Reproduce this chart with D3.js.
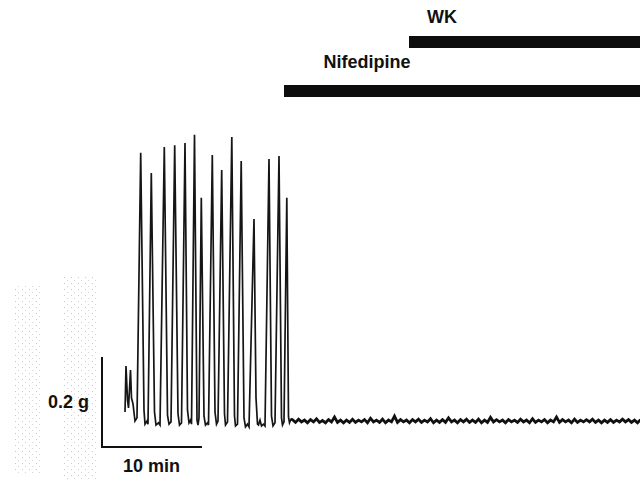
<!DOCTYPE html>
<html>
<head>
<meta charset="utf-8">
<script src="https://cdn.jsdelivr.net/npm/d3@7"></script>
<style>
  html, body { margin: 0; padding: 0; background: #fff; }
  svg { display: block; }
  text { font-family: "Liberation Sans", Arial, sans-serif; font-weight: bold; fill: #111; }
</style>
</head>
<body>
<svg id="chart" width="640" height="479"></svg>
<script>
// ---- Data (time in minutes, force in grams) ----
// Spontaneous contractions before drug application (key points)
const traceTime = [2.30,2.40,2.55,2.65,2.85,2.95,3.10,3.30,3.50,3.87,
  4.20,4.30,4.50,4.60,4.93,5.25,5.40,5.65,5.80,6.23,
  6.55,6.70,6.90,7.27,7.60,7.75,7.95,8.30,8.55,8.70,
  8.85,8.95,9.25,9.50,9.60,9.70,9.93,10.20,10.35,10.55,
  10.65,11.03,11.30,11.45,11.60,11.97,12.25,12.35,12.55,12.98,
  13.25,13.35,13.55,13.92,14.20,14.35,14.55,14.70,15.20,15.40,
  15.55,15.65,15.80,15.95,16.15,16.30,16.70,16.95,17.10,17.30,
  17.70,17.95,18.05,18.20,18.48,18.65,18.75,18.90];
const traceForce = [0.020,0.122,0.047,0.029,0.113,0.051,0.038,0.000,0.007,0.596,
  0.024,-0.007,0.000,-0.007,0.551,0.020,-0.009,-0.004,-0.009,0.609,
  0.013,-0.007,-0.002,0.613,0.016,-0.009,-0.004,0.618,0.024,-0.004,
  0.002,-0.007,0.636,0.002,-0.009,0.007,0.496,0.011,-0.009,-0.004,
  -0.009,0.591,0.020,-0.007,0.000,0.558,0.016,-0.009,-0.002,0.631,
  0.011,-0.011,-0.007,0.578,0.007,-0.013,-0.007,-0.013,0.449,0.051,
  -0.007,-0.009,0.002,-0.011,-0.007,-0.011,0.582,0.011,-0.011,-0.004,
  0.589,0.007,-0.009,-0.002,0.496,0.009,-0.004,0.004];

// Baseline after Nifedipine (sampled every 0.3 min from 19.05 min)
const baselineStart = 19.05, baselineStep = 0.3;
const baselineForce = [0.003,-0.003,0.004,-0.002,0.002,-0.004,0.003,-0.002,0.005,-0.003,
  0.001,-0.004,0.003,-0.002,0.009,-0.003,0.002,-0.004,0.002,-0.003,
  0.004,-0.003,0.002,-0.002,0.003,-0.004,0.006,-0.002,0.002,-0.003,
  0.004,-0.004,0.002,-0.002,0.011,-0.003,0.003,-0.002,0.002,-0.004,
  0.003,-0.002,0.004,-0.003,0.002,-0.002,0.005,-0.004,0.002,-0.003,
  0.003,-0.003,0.007,-0.002,0.002,-0.004,0.003,-0.002,0.004,-0.003,
  0.002,-0.003,0.004,-0.004,0.002,-0.003,0.008,-0.002,0.003,-0.002,
  0.002,-0.004,0.003,-0.002,0.002,-0.003,0.004,-0.002,0.002,-0.004,
  0.005,-0.003,0.002,-0.002,0.003,-0.004,0.002,-0.002,0.009,-0.003,
  0.003,-0.002,0.002,-0.004,0.004,-0.003,0.002,-0.002,0.003,-0.002,
  0.004,-0.003,0.002,-0.004,0.002,-0.003,0.003,-0.003,0.002,-0.002,
  0.004,-0.002,0.003,-0.003,0.002,-0.004,0.003];

// Drug application bars
const drugNames = ["WK", "Nifedipine"];
const drugStart = [30.7, 18.2];
const drugEnd = [53.8, 53.8];

// Scale bar
const scaleBarTime = 10;      // min
const scaleBarForce = 0.2;    // g
const scaleBarOrigin = [0, -0.058];
const scaleBarLabels = ["0.2 g", "10 min"];

// ---- Scales ----
const x = d3.scaleLinear().domain([0, 53.7]).range([102, 639]);
const y = d3.scaleLinear().domain([0, 0.6]).range([421, 151]);

const svg = d3.select("#chart");

// faint scan speckle on the left (decorative)
const defs = svg.append("defs");
const pat = defs.append("pattern").attr("id", "speck").attr("width", 7).attr("height", 6)
  .attr("patternUnits", "userSpaceOnUse");
pat.append("rect").attr("x", 1).attr("y", 1).attr("width", 1).attr("height", 1).attr("fill", "#c8c8c8");
pat.append("rect").attr("x", 4).attr("y", 4).attr("width", 1).attr("height", 1).attr("fill", "#d4d4d4");
svg.append("rect").attr("x", 12).attr("y", 285).attr("width", 30).attr("height", 190).attr("fill", "url(#speck)");
svg.append("rect").attr("x", 62).attr("y", 275).attr("width", 36).attr("height", 204).attr("fill", "url(#speck)");

// Contraction trace
const tracePts = traceTime.map((t, i) => [t, traceForce[i]]);
const basePts = baselineForce.map((f, i) => [baselineStart + i * baselineStep, f]);
const line = d3.line().x(d => x(d[0])).y(d => y(d[1]));

svg.append("path")
  .datum(tracePts.concat(basePts.slice(0, 1)))
  .attr("d", line)
  .attr("fill", "none")
  .attr("stroke", "#151515")
  .attr("stroke-width", 1.7)
  .attr("stroke-linejoin", "miter");

// thick noisy baseline band
svg.append("path")
  .datum(tracePts.slice(-1).concat(basePts))
  .attr("d", line)
  .attr("fill", "none")
  .attr("stroke", "#111")
  .attr("stroke-width", 2.8);

// Drug bars
const barRows = [{top: 36, h: 12, labelX: 442, labelY: 23}, {top: 85, h: 12, labelX: 367, labelY: 68}];
drugNames.forEach((name, i) => {
  svg.append("rect")
    .attr("x", x(drugStart[i]))
    .attr("y", barRows[i].top)
    .attr("width", x(drugEnd[i]) - x(drugStart[i]))
    .attr("height", barRows[i].h)
    .attr("fill", "#0d0d0d");
  svg.append("text")
    .attr("x", barRows[i].labelX)
    .attr("y", barRows[i].labelY)
    .attr("text-anchor", "middle")
    .attr("font-size", 18)
    .text(name);
});

// Scale bar
const sx0 = x(scaleBarOrigin[0]), sy0 = y(scaleBarOrigin[1]);
svg.append("path")
  .attr("d", `M${sx0},${y(scaleBarOrigin[1] + scaleBarForce)}V${sy0}H${x(scaleBarOrigin[0] + scaleBarTime)}`)
  .attr("fill", "none")
  .attr("stroke", "#111")
  .attr("stroke-width", 2);
svg.append("text").attr("x", 48).attr("y", 408).attr("font-size", 18).text(scaleBarLabels[0]);
svg.append("text").attr("x", 123).attr("y", 472).attr("font-size", 18).text(scaleBarLabels[1]);
</script>
</body>
</html>
